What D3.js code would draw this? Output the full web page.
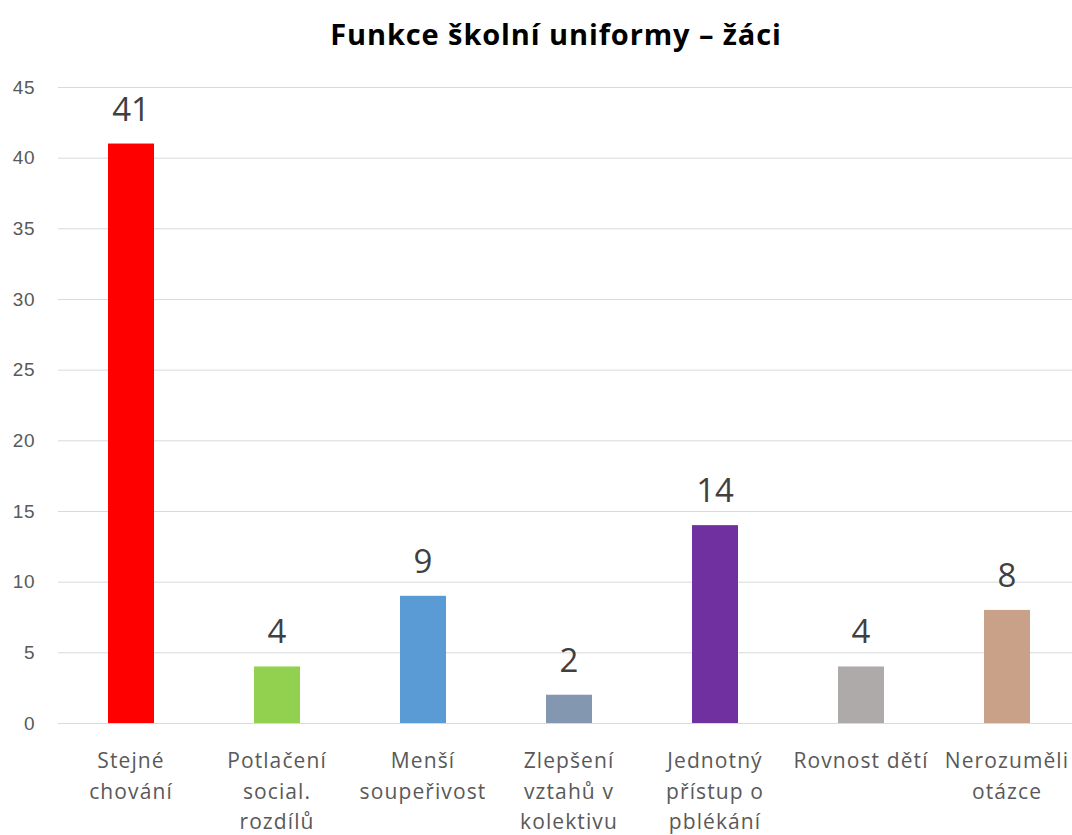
<!DOCTYPE html>
<html>
<head>
<meta charset="utf-8">
<script src="https://cdn.jsdelivr.net/npm/d3@7"></script>
<style>
  body { margin: 0; background: #fff; }
  svg { display: block; font-family: "Open Sans", "Noto Sans", sans-serif; }
</style>
</head>
<body>
<div id="chart"></div>
<script>
// Data
var categories = [
    ["Stejné", "chování"],
    ["Potlačení", "social.", "rozdílů"],
    ["Menší", "soupeřivost"],
    ["Zlepšení", "vztahů v", "kolektivu"],
    ["Jednotný", "přístup o", "pblékání"],
    ["Rovnost dětí"],
    ["Nerozuměli", "otázce"]
];
var values = [41, 4, 9, 2, 14, 4, 8];
var barColors = ["#FF0000", "#92D050", "#5B9BD5", "#8497B0", "#7030A0", "#AEAAAA", "#C9A088"];
var yTicks = [0, 5, 10, 15, 20, 25, 30, 35, 40, 45];
var chartTitle = "Funkce školní uniformy – žáci";

// Canvas Info
var CanvasInfo = { width: 1072, height: 835 };
var Plot = { left: 58, right: 1080, top: 87, bottom: 723 };

var svg = d3.select("#chart").append("svg")
            .attr("width", CanvasInfo.width)
            .attr("height", CanvasInfo.height);

var x = d3.scaleBand()
          .domain(d3.range(values.length))
          .range([Plot.left, Plot.right])
          .paddingInner(0.685)
          .paddingOuter(0.3425);

var y = d3.scaleLinear().domain([0, 45]).range([Plot.bottom, Plot.top]);

// Title
svg.append("text")
   .attr("x", 556)
   .attr("y", 45)
   .attr("text-anchor", "middle")
   .style("font-size", "29px")
   .style("font-weight", "bold")
   .style("letter-spacing", "0.9px")
   .style("fill", "#000")
   .text(chartTitle);

// Grid lines + y labels
var yAxis = d3.axisLeft(y)
              .tickValues(yTicks)
              .tickSize(-(Plot.right - Plot.left))
              .tickPadding(23);

var yG = svg.append("g")
            .attr("transform", "translate(" + Plot.left + ",0)")
            .call(yAxis);
yG.select(".domain").remove();
yG.selectAll(".tick line").attr("stroke", "#D9D9D9").attr("stroke-width", 1);
yG.selectAll(".tick text")
  .style("font-size", "19px")
  .style("letter-spacing", "0.5px")
  .style("fill", "#595959");

// Bars
svg.selectAll("rect.bar")
   .data(values)
   .enter()
   .append("rect")
   .attr("class", "bar")
   .attr("x", function(d, i) { return x(i); })
   .attr("y", function(d) { return y(d); })
   .attr("width", x.bandwidth())
   .attr("height", function(d) { return y(0) - y(d); })
   .style("fill", function(d, i) { return barColors[i]; });

// Value labels
svg.selectAll("text.value")
   .data(values)
   .enter()
   .append("text")
   .attr("class", "value")
   .attr("x", function(d, i) { return x(i) + x.bandwidth() / 2; })
   .attr("y", function(d) { return y(d) - 23; })
   .attr("text-anchor", "middle")
   .style("font-size", "33px")
   .style("fill", "#404040")
   .text(function(d) { return d; });

// Category labels
var xLabels = svg.selectAll("text.cat")
                 .data(categories)
                 .enter()
                 .append("text")
                 .attr("class", "cat")
                 .attr("text-anchor", "middle")
                 .style("font-size", "21px")
                 .style("letter-spacing", "1.1px")
                 .style("fill", "#595959");

xLabels.each(function(lines, i) {
    var cx = x(i) + x.bandwidth() / 2;
    d3.select(this).selectAll("tspan")
      .data(lines)
      .enter()
      .append("tspan")
      .attr("x", cx)
      .attr("y", function(d, j) { return 768 + j * 30.5; })
      .text(function(d) { return d; });
});
</script>
</body>
</html>
